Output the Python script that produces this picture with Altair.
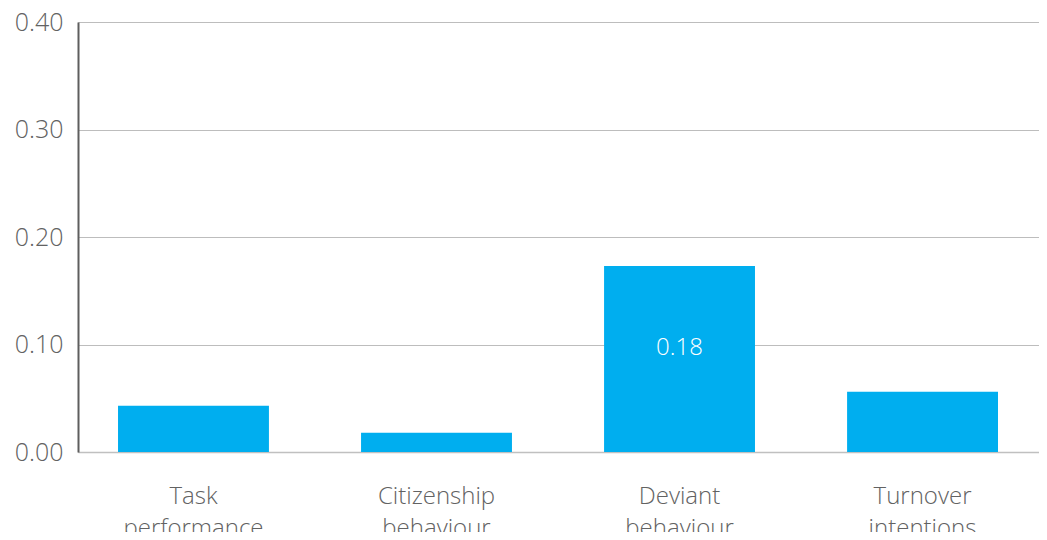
import altair as alt
import pandas as pd

categories = ["Task performance", "Citizenship behaviour", "Deviant behaviour", "Turnover intentions"]
values = [0.043, 0.018, 0.173, 0.056]
bar_labels = ["", "", "0.18", ""]
y_ticks = [0.0, 0.1, 0.2, 0.3, 0.4]

df = pd.DataFrame({"category": categories, "value": values, "label": bar_labels})

FONT = "Open Sans"
GREY = "#626262"

x = alt.X(
    "category:N",
    sort=categories,
    scale=alt.Scale(paddingInner=0.379, paddingOuter=0.1667, align=0.494),
    axis=alt.Axis(
        title=None,
        labelAngle=0,
        labelExpr="split(datum.label, ' ')",
        labelFont=FONT,
        labelFontSize=24,
        labelFontWeight=300,
        labelColor=GREY,
        labelLineHeight=32,
        labelPadding=32,
        labelBaseline="top",
        ticks=False,
        domain=True,
        domainColor="#c0c0c0",
        domainWidth=1.5,
        grid=False,
    ),
)

bars = alt.Chart(df).mark_bar(color="#00AEEF").encode(
    x=x,
    y=alt.Y(
        "value:Q",
        scale=alt.Scale(domain=[0, 0.4], nice=False, zero=True),
        axis=alt.Axis(
            title=None,
            values=y_ticks,
            format=".2f",
            labelFont=FONT,
            labelFontSize=25,
            labelFontWeight=300,
            labelColor=GREY,
            labelPadding=15,
            ticks=False,
            domain=True,
            domainColor="#5e5e5e",
            domainWidth=2,
            grid=True,
            gridColor="#bdbdbd",
            gridWidth=1,
        ),
    ),
)

text = (
    alt.Chart(df)
    .transform_calculate(mid="datum.value / 2")
    .mark_text(color="white", font=FONT, fontSize=24, fontWeight=300, baseline="middle", dy=-11)
    .encode(x=alt.X("category:N", sort=categories), y=alt.Y("mid:Q"), text="label:N")
)

chart = (
    alt.layer(bars, text)
    .properties(
        width=961,
        height=430,
        autosize=alt.AutoSizeParams(type="none"),
        padding={"left": 70, "top": 14, "right": 0, "bottom": 80},
    )
    .configure_view(stroke=None)
    .configure(background="white")
)

chart.save("out.html", embed_options={"renderer": "svg", "actions": False})
